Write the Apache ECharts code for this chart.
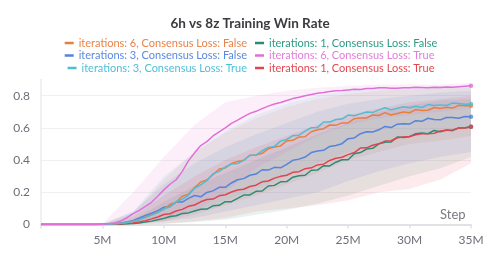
<!DOCTYPE html>
<html>
<head>
<meta charset="utf-8">
<script src="https://cdn.jsdelivr.net/npm/echarts@6/dist/echarts.min.js"></script>
<style>html,body{margin:0;padding:0;background:#fff}#c{width:500px;height:262px}</style>
</head>
<body>
<div id="c"></div>
<script>
// Step (millions) for the mean lines
var steps = [0,0.5,1,1.5,2,2.5,3,3.5,4,4.5,5,5.5,6,6.5,7,7.5,8,8.5,9,9.5,10,10.5,11,11.5,12,12.5,13,13.5,14,14.5,15,15.5,16,16.5,17,17.5,18,18.5,19,19.5,20,20.5,21,21.5,22,22.5,23,23.5,24,24.5,25,25.5,26,26.5,27,27.5,28,28.5,29,29.5,30,30.5,31,31.5,32,32.5,33,33.5,34,34.5,35];

var it6False = [0,0,0,0,0,0,0,0,0,0,0.001,0.002,0.004,0.007,0.012,0.02,0.03,0.046,0.06,0.076,0.094,0.126,0.138,0.176,0.188,0.229,0.264,0.277,0.309,0.345,0.351,0.379,0.392,0.399,0.43,0.432,0.442,0.47,0.481,0.488,0.519,0.523,0.544,0.545,0.576,0.588,0.595,0.618,0.616,0.631,0.631,0.657,0.662,0.662,0.68,0.677,0.695,0.68,0.69,0.699,0.694,0.714,0.708,0.71,0.727,0.721,0.728,0.723,0.74,0.738,0.738];
var it1False = [0,0,0,0,0,0,0,0,0,0,0,0,0.001,0.002,0.004,0.006,0.01,0.015,0.021,0.029,0.038,0.05,0.054,0.069,0.072,0.084,0.095,0.096,0.116,0.119,0.142,0.142,0.162,0.183,0.184,0.206,0.208,0.239,0.243,0.265,0.267,0.294,0.303,0.306,0.337,0.338,0.365,0.364,0.387,0.402,0.402,0.439,0.447,0.469,0.473,0.501,0.511,0.513,0.543,0.54,0.545,0.564,0.568,0.564,0.584,0.576,0.587,0.583,0.6,0.601,0.607];
var it3False = [0,0,0,0,0,0,0,0,0,0,0.001,0.002,0.005,0.009,0.015,0.025,0.04,0.056,0.07,0.086,0.107,0.112,0.139,0.139,0.162,0.18,0.172,0.199,0.209,0.231,0.231,0.258,0.278,0.285,0.306,0.313,0.34,0.338,0.355,0.352,0.373,0.399,0.406,0.419,0.447,0.457,0.461,0.485,0.491,0.502,0.533,0.538,0.564,0.576,0.575,0.588,0.609,0.602,0.623,0.626,0.624,0.645,0.641,0.66,0.652,0.65,0.665,0.664,0.66,0.671,0.67];
var it6True = [0,0,0,0,0,0,0,0,0,0,0.002,0.004,0.01,0.022,0.042,0.068,0.088,0.112,0.138,0.175,0.215,0.25,0.278,0.33,0.395,0.445,0.49,0.515,0.55,0.576,0.6,0.628,0.648,0.67,0.69,0.703,0.72,0.735,0.748,0.758,0.77,0.782,0.79,0.8,0.808,0.815,0.82,0.826,0.83,0.832,0.836,0.84,0.838,0.845,0.844,0.849,0.85,0.847,0.846,0.85,0.849,0.852,0.851,0.849,0.853,0.851,0.854,0.853,0.856,0.859,0.862];
var it3True = [0,0,0,0,0,0,0,0,0,0,0.001,0.002,0.004,0.007,0.012,0.02,0.03,0.043,0.058,0.074,0.098,0.109,0.143,0.157,0.181,0.225,0.246,0.272,0.315,0.33,0.357,0.376,0.379,0.398,0.429,0.431,0.458,0.479,0.485,0.518,0.528,0.552,0.555,0.58,0.601,0.602,0.637,0.636,0.652,0.655,0.68,0.675,0.687,0.699,0.695,0.712,0.725,0.712,0.722,0.731,0.725,0.734,0.727,0.745,0.739,0.743,0.739,0.754,0.751,0.747,0.748];
var it1True = [0,0,0,0,0,0,0,0,0,0,0,0.001,0.002,0.004,0.006,0.01,0.015,0.024,0.035,0.047,0.062,0.067,0.084,0.094,0.113,0.121,0.141,0.155,0.158,0.178,0.185,0.202,0.214,0.219,0.236,0.244,0.265,0.27,0.288,0.299,0.306,0.324,0.328,0.347,0.352,0.37,0.375,0.398,0.411,0.418,0.434,0.447,0.475,0.476,0.492,0.501,0.518,0.52,0.539,0.543,0.547,0.557,0.564,0.563,0.566,0.581,0.586,0.587,0.599,0.599,0.607];

// min/max bands (coarser steps)
var bandSteps = [0,2.5,5,7.5,10,12.5,15,17.5,20,22.5,25,27.5,30,32.5,35];
var it6FalseHi = [0,0,0.003,0.07,0.28,0.45,0.57,0.66,0.73,0.78,0.81,0.83,0.84,0.85,0.85];
var it6FalseLo = [0,0,0,0.004,0.02,0.06,0.12,0.18,0.25,0.32,0.4,0.45,0.5,0.52,0.55];
var it1FalseHi = [0,0,0.002,0.03,0.14,0.24,0.32,0.4,0.48,0.56,0.63,0.7,0.74,0.77,0.78];
var it1FalseLo = [0,0,0,0.001,0.004,0.015,0.03,0.06,0.09,0.13,0.18,0.24,0.3,0.35,0.42];
var it3FalseHi = [0,0,0.003,0.08,0.25,0.38,0.48,0.56,0.63,0.7,0.75,0.78,0.8,0.82,0.83];
var it3FalseLo = [0,0,0,0.003,0.02,0.04,0.08,0.12,0.16,0.2,0.27,0.33,0.38,0.42,0.45];
var it6TrueHi = [0,0,0.005,0.2,0.42,0.62,0.76,0.8,0.83,0.85,0.86,0.87,0.87,0.87,0.88];
var it6TrueLo = [0,0,0,0.005,0.02,0.08,0.2,0.35,0.45,0.55,0.62,0.66,0.68,0.7,0.72];
var it3TrueHi = [0,0,0.003,0.08,0.3,0.45,0.58,0.68,0.75,0.8,0.83,0.85,0.85,0.86,0.86];
var it3TrueLo = [0,0,0,0.005,0.03,0.08,0.15,0.22,0.3,0.38,0.45,0.5,0.55,0.57,0.6];
var it1TrueHi = [0,0,0.002,0.05,0.18,0.3,0.4,0.48,0.55,0.62,0.68,0.72,0.76,0.78,0.8];
var it1TrueLo = [0,0,0,0.002,0.005,0.02,0.04,0.08,0.1,0.12,0.15,0.2,0.22,0.28,0.38];

var names = ['iterations: 6, Consensus Loss: False','iterations: 1, Consensus Loss: False','iterations: 3, Consensus Loss: False','iterations: 6, Consensus Loss: True','iterations: 3, Consensus Loss: True','iterations: 1, Consensus Loss: True'];
var colors = ['#E5803F','#2A8C74','#5683DB','#E06FD6','#52BDD0','#E0444F'];
var textColors = ['#E8834A','#2E9A85','#5A8AE0','#E57BDB','#4FBFD9','#E5474F'];
var means = [it6False,it1False,it3False,it6True,it3True,it1True];
var his = [it6FalseHi,it1FalseHi,it3FalseHi,it6TrueHi,it3TrueHi,it1TrueHi];
var los = [it6FalseLo,it1FalseLo,it3FalseLo,it6TrueLo,it3TrueLo,it1TrueLo];
var drawOrder = [1,5,2,0,4,3];

var FONT = 'Lato, "Noto Sans", sans-serif';
var series = [];
for (var k = 0; k < 6; k++) {
  (function(k){
    var lo = los[k], hi = his[k];
    series.push({type:'custom', name:'band'+k, silent:true, z:1,
      encode:{x:0, y:[1,2]},
      data: bandSteps.map(function(s,i){return [s, lo[i], hi[i]];}),
      renderItem:function(params, api){
        if (params.dataIndex !== 0) return null;
        var top = [], bot = [];
        for (var i = 0; i < bandSteps.length; i++) {
          top.push(api.coord([bandSteps[i], hi[i]]));
          bot.push(api.coord([bandSteps[i], lo[i]]));
        }
        var pts = top.concat(bot.reverse());
        return {type:'polygon', shape:{points:pts},
          style:{fill:colors[k], opacity:0.11, stroke:null}};
      }});
  })(k);
}
drawOrder.forEach(function(k){
  var m = means[k];
  series.push({type:'line', name:names[k], symbol:'none', color:colors[k], z:3,
    lineStyle:{width:1.5, color:colors[k]},
    data: steps.map(function(s,i){return [s, m[i]];})});
  series.push({type:'scatter', name:'end'+k, symbolSize:4.5, color:colors[k], silent:true, z:4,
    data:[[steps[steps.length-1], m[m.length-1]]]});
});

var legends = [];
var rowTops = [37.5, 50, 62.5];
for (var k = 0; k < 6; k++) {
  var row = Math.floor(k/2), col = k % 2;
  var lg = {data:[names[k]], top: rowTops[row], padding:0, icon:'rect', itemWidth:9, itemHeight:2.5, itemGap:5,
    textStyle:{color:textColors[k], fontSize:11, fontFamily:FONT}, selectedMode:false};
  if (col === 0) lg.right = 253; else lg.left = 255;
  legends.push(lg);
}

var chart = echarts.init(document.getElementById('c'), null, {renderer:'canvas'});
chart.setOption({
  animation:false,
  backgroundColor:'#fff',
  title:{text:'6h vs 8z Training Win Rate', left:'center', top:17, padding:0,
    textStyle:{fontSize:13.5, fontWeight:'bold', color:'#3a3a3f', fontFamily:FONT}},
  legend: legends,
  grid:{left:41, right:29, top:79.6, bottom:37.5, containLabel:false},
  xAxis:{type:'value', min:0, max:35, interval:5,
    axisLine:{show:true, lineStyle:{color:'#e2e2e6', width:2}},
    axisTick:{show:true, length:4, lineStyle:{color:'#e2e2e6', width:1.5}},
    splitLine:{show:false},
    axisLabel:{fontSize:12, color:'#6e6e78', fontFamily:FONT, margin:10,
      formatter:function(v){return v===0?'':v+'M';}}},
  yAxis:{type:'value', min:0, max:0.9, interval:0.2,
    axisLine:{show:true, lineStyle:{color:'#ececf0', width:1.5}},
    axisTick:{show:false},
    splitLine:{show:true, showMaxLine:false, lineStyle:{color:'#f0f0f2', width:1}},
    axisLabel:{fontSize:12, color:'#6e6e78', fontFamily:FONT, margin:11, showMaxLabel:false,
      formatter:function(v){return v===0?'0':v.toFixed(1);}}},
  graphic:[{type:'text', left:440, top:208, silent:true,
    style:{text:'Step', font:'13px Lato, "Noto Sans", sans-serif', fill:'#7a7a82'}}],
  series: series
});
</script>
</body>
</html>
